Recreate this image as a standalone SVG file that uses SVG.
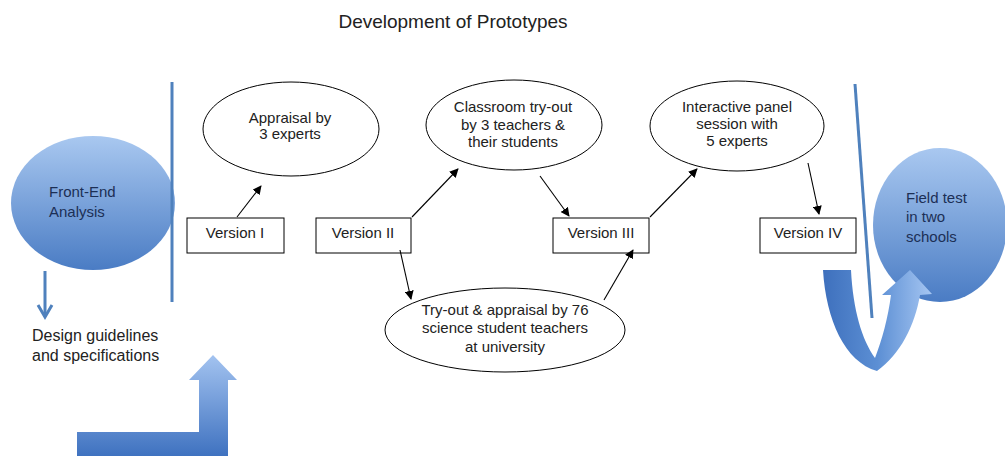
<svg xmlns="http://www.w3.org/2000/svg" width="1005" height="456" viewBox="0 0 1005 456">
<defs>
<linearGradient id="gBlue" x1="0" y1="0" x2="0" y2="1">
<stop offset="0" stop-color="#a9c8f0"/>
<stop offset="1" stop-color="#4a7cc4"/>
</linearGradient>
<linearGradient id="gArrowUp" x1="0" y1="1" x2="0" y2="0">
<stop offset="0" stop-color="#3f72c0"/>
<stop offset="1" stop-color="#a3c3f0"/>
</linearGradient>
<linearGradient id="gU" x1="0" y1="0" x2="1" y2="0">
<stop offset="0" stop-color="#3e70bd"/>
<stop offset="0.5" stop-color="#5c8fd4"/>
<stop offset="1" stop-color="#a6c6f2"/>
</linearGradient>
<marker id="ah" viewBox="0 0 10 10" refX="9" refY="5" markerWidth="9" markerHeight="9" markerUnits="userSpaceOnUse" orient="auto">
<path d="M0,0 L10,5 L0,10 z" fill="#000"/>
</marker>
</defs>
<style>
text{font-family:"Liberation Sans",Arial,sans-serif;font-size:15px;fill:#222;}
.t{text-anchor:middle;}
.title{font-size:19px;}
.bt{fill:#1c2f55;font-size:15px;}
.node{fill:#fff;stroke:#000;stroke-width:1;}
.conn{stroke:#000;stroke-width:1.1;fill:none;marker-end:url(#ah);}
.bl{stroke:#4f81bd;stroke-width:3;fill:none;}
</style>
<rect width="1005" height="456" fill="#fff"/>
<text class="t title" x="453" y="28">Development of Prototypes</text>

<g id="front-end">
<ellipse cx="93" cy="203" rx="82" ry="67" fill="url(#gBlue)"/>
<text class="bt" x="49" y="197">Front-End</text>
<text class="bt" x="49" y="217">Analysis</text>
</g>
<g id="divider-left"><line class="bl" x1="172" y1="82" x2="172" y2="302"/></g>
<g id="design">
<line x1="45" y1="271" x2="45" y2="316" stroke="#4f81bd" stroke-width="3"/>
<path d="M38 305 L45 317 L52 305" fill="none" stroke="#4f81bd" stroke-width="3"/>
<text x="32" y="341" style="font-size:16px">Design guidelines</text>
<text x="32" y="361" style="font-size:16px">and specifications</text>
</g>
<g id="bent-arrow">
<path d="M77 432 L199 432 L199 380 L189 380 L213 355 L237 380 L228 380 L228 456 L77 456 Z" fill="url(#gArrowUp)"/>
</g>

<g id="appraisal"><ellipse class="node" cx="291" cy="129" rx="88" ry="47"/>
<text class="t" x="290" y="123">Appraisal by</text><text class="t" x="290" y="139">3 experts</text></g>
<g id="classroom"><ellipse class="node" cx="514" cy="125" rx="88" ry="45"/>
<text class="t" x="513" y="112">Classroom try-out</text><text class="t" x="513" y="130">by 3 teachers &amp;</text><text class="t" x="513" y="147">their students</text></g>
<g id="panel"><ellipse class="node" cx="737" cy="126" rx="87" ry="45"/>
<text class="t" x="737" y="112">Interactive panel</text><text class="t" x="737" y="129">session with</text><text class="t" x="737" y="146">5 experts</text></g>
<g id="tryout"><ellipse class="node" cx="505" cy="330" rx="120" ry="42"/>
<text class="t" x="505" y="315">Try-out &amp; appraisal by 76</text><text class="t" x="505" y="333">science student teachers</text><text class="t" x="505" y="352">at university</text></g>

<g id="v1"><rect class="node" x="187" y="218" width="97" height="35"/><text class="t" x="235" y="238">Version I</text></g>
<g id="v2"><rect class="node" x="316" y="218" width="95" height="35"/><text class="t" x="363" y="238">Version II</text></g>
<g id="v3"><rect class="node" x="553" y="218" width="96" height="35"/><text class="t" x="601" y="238">Version III</text></g>
<g id="v4"><rect class="node" x="760" y="218" width="96" height="35"/><text class="t" x="808" y="238">Version IV</text></g>

<g id="connectors">
<line class="conn" x1="237" y1="217" x2="261" y2="186"/>
<line class="conn" x1="412" y1="217" x2="458" y2="169"/>
<line class="conn" x1="540" y1="176" x2="569" y2="216"/>
<line class="conn" x1="400" y1="250" x2="411" y2="299"/>
<line class="conn" x1="604" y1="300" x2="633" y2="250"/>
<line class="conn" x1="650" y1="217" x2="697" y2="169"/>
<line class="conn" x1="808" y1="163" x2="819" y2="214"/>
</g>

<g id="field-test">
<ellipse cx="940" cy="225" rx="67" ry="77" fill="url(#gBlue)"/>
<text class="bt" x="906" y="203">Field test</text>
<text class="bt" x="906" y="222">in two</text>
<text class="bt" x="906" y="242">schools</text>
</g>
<g id="divider-right"><line class="bl" x1="855" y1="84" x2="872" y2="318"/></g>
<g id="u-arrow">
<path d="M823 270 L851 270 C853 310 862 340 875 358 C882 340 888 318 891 295 L882 295 L910 270 L932 294 L920 295 C915 325 900 355 877 371 C845 362 826 320 823 270 Z" fill="url(#gU)"/>
</g>
</svg>
